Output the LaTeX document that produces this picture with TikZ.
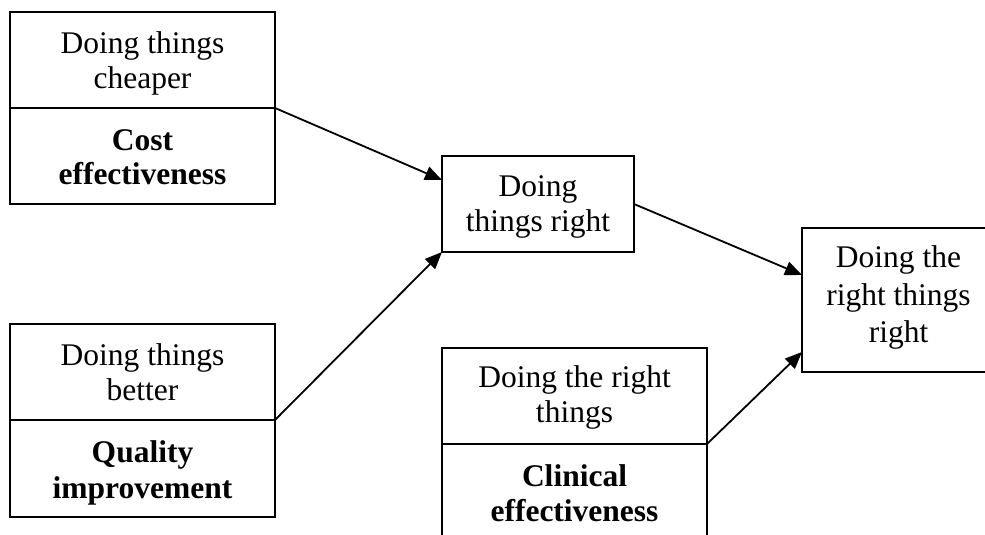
\documentclass[tikz,border=0pt]{standalone}
\usepackage{fontspec}
\setmainfont{Liberation Serif}
\usetikzlibrary{arrows.meta,calc}
\tikzset{
  frame/.style={draw, line width=1.8pt, inner sep=0pt, outer sep=0pt, anchor=north west},
  txt/.style={align=center, inner sep=0pt, font=\fontsize{31.5}{35}\selectfont},
  btxt/.style={txt, font=\fontsize{31.5}{34}\selectfont\bfseries},
  arr/.style={line width=1.8pt, -{Triangle[length=17pt,width=14pt]}}
}
\begin{document}
\begin{tikzpicture}[x=1pt,y=-1pt]
\useasboundingbox[clip] (0,0) rectangle (985,535);
% frames
\node[frame, minimum width=265pt, minimum height=96pt] (b1a) at (10,12) {};
\node[frame, minimum width=265pt, minimum height=96pt] (b1b) at (10,108) {};
\node[frame, minimum width=192pt, minimum height=96pt] (b2) at (442,156) {};
\node[frame, minimum width=193pt, minimum height=144pt] (b3) at (802,228) {};
\node[frame, minimum width=265pt, minimum height=96pt] (b4a) at (10,324) {};
\node[frame, minimum width=265pt, minimum height=97pt] (b4b) at (10,420) {};
\node[frame, minimum width=265pt, minimum height=96pt] (b5a) at (442,348) {};
\node[frame, minimum width=265pt, minimum height=110pt] (b5b) at (442,444) {};
% texts
\node[txt] (t1a) at (142.5,63.2) {Doing things\\cheaper};
\node[btxt] (t1b) at (142.5,157.5) {Cost\\effectiveness};
\node[txt] (t2) at (538,206.9) {Doing\\things right};
\node[txt, font=\fontsize{31.5}{37.5}\selectfont] (t3) at (898.5,297.5) {Doing the\\right things\\right};
\node[txt] (t4a) at (142.5,371.8) {Doing things\\better};
\node[btxt, font=\fontsize{31.5}{36}\selectfont\bfseries] (t4b) at (142.5,472.6) {Quality\\improvement};
\node[txt] (t5a) at (574.5,397.7) {Doing the right\\things};
\node[btxt, font=\fontsize{31.5}{35}\selectfont\bfseries] (t5b) at (574.5,493.5) {Clinical\\effectiveness};
% arrows
\draw[arr] (b1a.south east) -- ([yshift=-24pt]b2.north west);
\draw[arr] (b4a.south east) -- (b2.south west);
\draw[arr] (b2.east) -- ([yshift=-47pt]b3.north west);
\draw[arr] (b5a.south east) -- ([yshift=20pt]b3.south west);
\end{tikzpicture}
\end{document}
